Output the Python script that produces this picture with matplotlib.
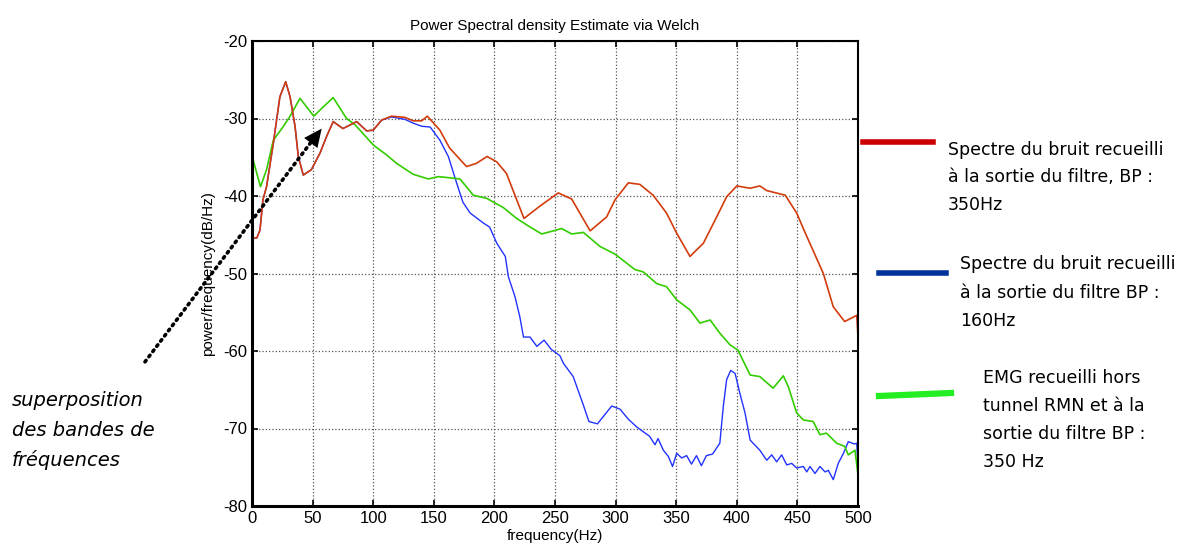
import numpy as np
import matplotlib.pyplot as plt

plt.rcParams['axes.unicode_minus'] = False

# spectre bruit, filtre BP 350 Hz
red_f = [0, 0.5, 4, 6.6, 9, 12, 17.6, 23, 27.8, 31.4, 35.5, 38.2, 42.3, 49, 56, 61.6, 67, 75, 86.4,
         94.6, 100, 107, 115, 126, 133, 140, 144.7, 155, 163, 177, 185, 194, 202, 210, 224.4, 237.6,
         252.7, 263.8, 279, 292.6, 299.5, 310.5, 320, 331, 342, 350.4, 361.4, 372.4, 383.4, 391.6,
         400, 411, 419, 424.7, 440, 449.4, 456, 471.4, 479.6, 489, 499, 500]
red_db = [-48.5, -45.4, -45.4, -44.4, -40.5, -38.8, -33.2, -27.2, -25.25, -27.2, -31, -34.9, -37.3,
          -36.6, -34.5, -32.3, -30.4, -31.3, -30.4, -31.6, -31.5, -30.2, -29.7, -29.85, -30.3, -30.3,
          -29.7, -31.5, -33.8, -36.2, -35.8, -34.9, -35.6, -37.1, -42.9, -41.3, -39.6, -40.4, -44.5,
          -42.7, -40.5, -38.3, -38.5, -39.9, -42.2, -44.8, -47.8, -46.1, -42.7, -40.1, -38.7, -39,
          -38.7, -39.3, -39.9, -42.2, -44.6, -50, -54.3, -56.2, -55.4, -58.2]

# spectre bruit, filtre BP 160 Hz
blue_f = [0, 0.5, 4, 6.6, 9, 12, 17.6, 23, 27.8, 31.4, 35.5, 38.2, 42.3, 49, 56, 61.6, 67, 75, 86.4,
          94.6, 100, 107, 115, 126, 133, 140, 147, 155, 162, 169, 174, 180, 191, 196, 202, 209, 211.5,
          217, 221, 224, 229.4, 235, 241, 247, 254, 257, 265, 273, 278, 285, 296.8, 303.6, 310.5,
          317.4, 328, 332.5, 335, 339.4, 343.5, 347, 350.4, 354.5, 358.6, 362.6, 366.7, 370.8, 374.9,
          380, 386, 388.9, 391.6, 395, 398.6, 402.6, 406.8, 411, 419, 424.7, 428.8, 432.9, 437,
          441.2, 445.3, 449.4, 454.9, 457.7, 460.4, 464.5, 468.6, 472.8, 475.5, 479.6, 483.7, 488,
          492, 497, 499, 500]
blue_db = [-48.5, -45.4, -45.4, -44.4, -40.5, -38.8, -33.2, -27.2, -25.25, -27.2, -31, -34.9, -37.3,
           -36.6, -34.5, -32.3, -30.4, -31.3, -30.4, -31.6, -31.5, -30.2, -29.8, -30.1, -30.6, -31,
           -31.1, -32.8, -34.9, -38.4, -40.8, -42.2, -43.5, -44, -46.1, -47.8, -50.4, -53, -55.6,
           -58.2, -58.2, -59.4, -58.6, -59.8, -60.6, -61.6, -63.3, -66.8, -69.1, -69.4, -67.1, -67.5,
           -68.8, -69.8, -71, -72.1, -71.3, -72.8, -73.6, -74.9, -73.2, -73.8, -73.5, -74.6, -73.5,
           -74.8, -73.5, -73.3, -71.9, -67.1, -63.7, -62.5, -62.9, -65.5, -68, -71.5, -72.8, -74.1,
           -73.4, -74.3, -73.4, -74.7, -74.5, -75.1, -74.9, -75.6, -74.9, -75.8, -74.9, -75.6,
           -75.4, -76.6, -74.5, -73.2, -71.7, -72, -71.9, -75]

# EMG hors tunnel RMN, filtre BP 350 Hz
green_f = [0, 0.5, 7, 12, 17.6, 26, 31, 39.6, 51, 58.8, 67, 78, 85, 100, 111, 119.4, 133, 145.5,
           153.7, 166, 171.6, 182.6, 193.6, 207.4, 218.4, 229.4, 239, 248.6, 255.5, 263.8, 273.4,
           287, 299.5, 316, 322.9, 333.9, 342, 350.4, 361.4, 369.6, 378, 386, 394.4, 401, 411, 419,
           430, 438.4, 442.5, 449.4, 455, 463, 468.6, 474, 482.4, 489, 492, 497.5, 500]
green_db = [-37.9, -35.1, -38.8, -36.6, -32.8, -31, -29.8, -27.4, -29.7, -28.5, -27.3, -30, -30.8,
            -33.4, -34.7, -35.8, -37.2, -37.8, -37.5, -37.7, -37.8, -39.9, -40.3, -41.5, -42.9, -44,
            -44.9, -44.5, -44.2, -44.9, -44.7, -46.5, -47.5, -49.5, -49.8, -51.3, -51.7, -53.4, -54.7,
            -56.4, -56, -57.7, -59.2, -59.9, -63.1, -63.3, -64.8, -63.2, -64.6, -68, -68.9, -69.1,
            -70.8, -70.6, -71.9, -72.3, -73.4, -72.8, -76]

x_ticks = list(range(0, 501, 50))
y_ticks = list(range(-80, -19, 10))

red_lines = ["Spectre du bruit recueilli", "à la sortie du filtre, BP :", "350Hz"]
blue_lines = ["Spectre du bruit recueilli", "à la sortie du filtre BP :", "160Hz"]
green_lines = ["EMG recueilli hors", "tunnel RMN et à la", "sortie du filtre BP :", "350 Hz"]
note_lines = ["superposition", "des bandes de", "fréquences"]

W, H = 1198, 556
fig = plt.figure(figsize=(W / 100, H / 100), dpi=100)
ax = fig.add_axes([252 / W, 1 - 506 / H, 606 / W, 465 / H])

ax.plot(blue_f, blue_db, color='#2233ff', lw=1.0)
ax.plot(green_f, green_db, color='#33cc00', lw=1.2)
ax.plot(red_f, red_db, color='#d23c0c', lw=1.2)

ax.set_xlim(0, 500)
ax.set_ylim(-80, -20)
ax.set_xticks(x_ticks)
ax.set_yticks(y_ticks)
ax.grid(True, color='#555555', linestyle=':', lw=0.9)
ax.tick_params(direction='in', top=True, right=True, labelsize=12, length=4, width=1.2)
for lab in ax.get_xticklabels() + ax.get_yticklabels():
    lab.set_family('Liberation Sans')
for s in ax.spines.values():
    s.set_linewidth(1.5)
ax.spines['left'].set_linewidth(2.2)
ax.spines['bottom'].set_linewidth(2.2)

ax.set_title("Power Spectral density Estimate via Welch", fontsize=11, family='Liberation Sans', pad=8)
ax.set_xlabel("frequency(Hz)", fontsize=11, family='Liberation Sans', labelpad=2)
ax.set_ylabel("power/frequency(dB/Hz)", fontsize=11, family='Liberation Sans', labelpad=6)

# fleche en pointille : trait pointille + tete pleine
tail = (-88.3, -61.4)
base = (49.0, -33.0)
tip = (57.5, -31.3)
ax.plot([tail[0], base[0]], [tail[1], base[1]], color='black', lw=2.6,
        linestyle=(0, (0.5, 1.3)), dash_capstyle='round', clip_on=False)
ax.annotate("", xy=tip, xytext=tail, xycoords='data', annotation_clip=False,
            arrowprops=dict(arrowstyle='-|>,head_length=0.65,head_width=0.3', color='black',
                            lw=0, mutation_scale=20, shrinkA=0, shrinkB=0))

for i, t in enumerate(note_lines):
    fig.text(12 / W, 1 - (400 + 30 * i) / H, t, fontsize=14, style='italic', va='center')

# legende dessinee a la main
fig.add_artist(plt.Line2D([863 / W, 933 / W], [1 - 142 / H, 1 - 142 / H], color='#cc0000', lw=4))
fig.add_artist(plt.Line2D([879 / W, 946 / W], [1 - 273 / H, 1 - 273 / H], color='#003399', lw=4))
fig.add_artist(plt.Line2D([879 / W, 951 / W], [1 - 396 / H, 1 - 393 / H], color='#22ee22', lw=4.5))
for i, t in enumerate(red_lines):
    fig.text(948 / W, 1 - (150 + 27.5 * i) / H, t, fontsize=12.5, va='center')
for i, t in enumerate(blue_lines):
    fig.text(960 / W, 1 - (264 + 28.5 * i) / H, t, fontsize=12.5, va='center')
for i, t in enumerate(green_lines):
    fig.text(983 / W, 1 - (378 + 28 * i) / H, t, fontsize=12.5, va='center')

fig.savefig("out.png", dpi=100)
